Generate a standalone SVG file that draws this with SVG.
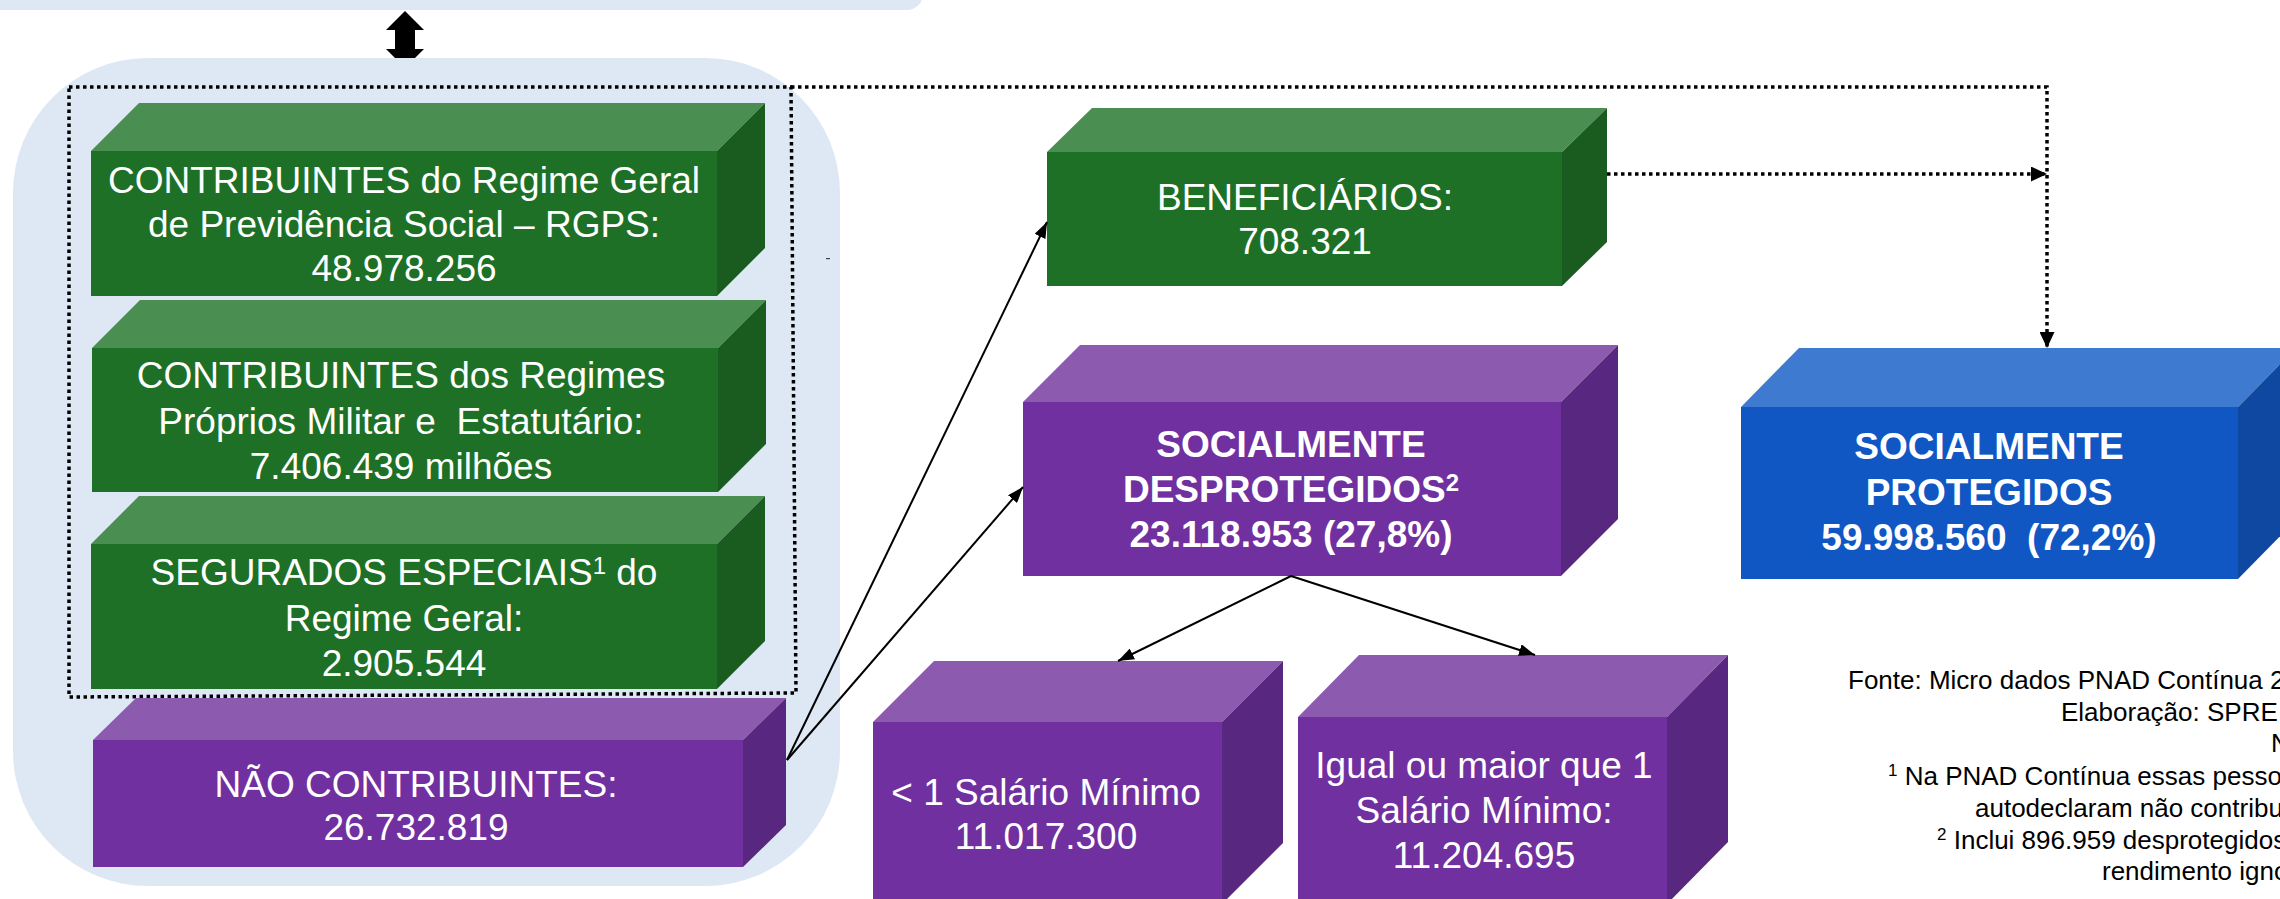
<svg xmlns="http://www.w3.org/2000/svg" width="2280" height="899" viewBox="0 0 2280 899">
<style>
  .bg { fill: #dee8f4; }
  .t { font-family: "Liberation Sans", Arial, sans-serif; font-size: 37px; fill: #ffffff; text-anchor: middle; }
  .b { font-weight: bold; }
  .sup { font-size: 24px; }
  .fsup { font-size: 17px; }
  .fn { font-family: "Liberation Sans", Arial, sans-serif; font-size: 26px; fill: #000000; }
  .gF { fill: #1e7027; } .gT { fill: #4a8e52; } .gS { fill: #1a5c20; }
  .pF { fill: #7030a0; } .pT { fill: #8c5bb0; } .pS { fill: #58277f; }
  .bF { fill: #1057c3; } .bT { fill: #3e7ad0; } .bS { fill: #0e48a0; }
  .dot { fill: none; stroke: #000000; stroke-width: 3.5; stroke-dasharray: 3.5 3.5; }
  .sol { fill: none; stroke: #000000; stroke-width: 2; }
</style>
<defs>
  <marker id="arr" markerUnits="userSpaceOnUse" markerWidth="16" markerHeight="12" refX="16" refY="6" orient="auto">
    <path d="M0,0 L16,6 L0,12 Z" style="fill:#000;stroke:none"/>
  </marker>
  <marker id="darr" markerUnits="userSpaceOnUse" markerWidth="16" markerHeight="15" refX="16" refY="7.5" orient="auto">
    <path d="M0,0 L16,7.5 L0,15 Z" style="fill:#000;stroke:none"/>
  </marker>
</defs>
<rect width="2280" height="899" fill="#ffffff"/>

<g id="top-box">
  <rect class="bg" x="-30" y="-40" width="953" height="50" rx="16"/>
</g>

<g id="double-arrow">
  <polygon points="405,11 424,30 415,30 415,49 424,49 405,68 386,49 395,49 395,30 386,30" fill="#000"/>
</g>

<g id="contributors-panel">
  <rect class="bg" x="13" y="58" width="827" height="828" rx="135"/>
  <rect x="826" y="258" width="4" height="1.2" fill="#444"/>
</g>

<g id="contribuintes-rgps">
  <polygon class="gT" points="91,151 139,103 765,103 717,151"/>
  <polygon class="gS" points="717,151 765,103 765,248 717,296"/>
  <rect class="gF" x="91" y="151" width="626" height="145"/>
  <text class="t" x="404" y="193">CONTRIBUINTES do Regime Geral</text>
  <text class="t" x="404" y="237">de Previdência Social – RGPS:</text>
  <text class="t" x="404" y="281">48.978.256</text>
</g>

<g id="contribuintes-rpps">
  <polygon class="gT" points="92,348 140,300 766,300 718,348"/>
  <polygon class="gS" points="718,348 766,300 766,444 718,492"/>
  <rect class="gF" x="92" y="348" width="626" height="144"/>
  <text class="t" x="401" y="388" xml:space="preserve">CONTRIBUINTES dos Regimes</text>
  <text class="t" x="401" y="434" xml:space="preserve">Próprios Militar e  Estatutário:</text>
  <text class="t" x="401" y="479">7.406.439 milhões</text>
</g>

<g id="segurados-especiais">
  <polygon class="gT" points="91,544 139,496 765,496 717,544"/>
  <polygon class="gS" points="717,544 765,496 765,641 717,689"/>
  <rect class="gF" x="91" y="544" width="626" height="145"/>
  <text class="t" x="404" y="585">SEGURADOS ESPECIAIS<tspan class="sup" dy="-11">1</tspan><tspan dy="11"> do</tspan></text>
  <text class="t" x="404" y="631">Regime Geral:</text>
  <text class="t" x="404" y="676">2.905.544</text>
</g>

<g id="contributors-group-border">
  <polygon class="dot" points="69,87 791,87 796,693 69,697"/>
</g>

<g id="nao-contribuintes">
  <polygon class="pT" points="93,740 136,698 786,698 743,740"/>
  <polygon class="pS" points="743,740 786,698 786,825 743,867"/>
  <rect class="pF" x="93" y="740" width="650" height="127"/>
  <text class="t" x="416" y="797">NÃO CONTRIBUINTES:</text>
  <text class="t" x="416" y="840">26.732.819</text>
</g>

<g id="beneficiarios">
  <polygon class="gT" points="1047,152 1092,108 1607,108 1562,152"/>
  <polygon class="gS" points="1562,152 1607,108 1607,242 1562,286"/>
  <rect class="gF" x="1047" y="152" width="515" height="134"/>
  <text class="t" x="1305" y="210">BENEFICIÁRIOS:</text>
  <text class="t" x="1305" y="254">708.321</text>
</g>

<g id="socialmente-desprotegidos">
  <polygon class="pT" points="1023,402 1080,345 1618,345 1561,402"/>
  <polygon class="pS" points="1561,402 1618,345 1618,519 1561,576"/>
  <rect class="pF" x="1023" y="402" width="538" height="174"/>
  <text class="t b" x="1291" y="457">SOCIALMENTE</text>
  <text class="t b" x="1291" y="502">DESPROTEGIDOS<tspan class="sup" dy="-11">2</tspan></text>
  <text class="t b" x="1291" y="547">23.118.953 (27,8%)</text>
</g>

<g id="socialmente-protegidos">
  <polygon class="bT" points="1741,407 1799,348 2296,348 2238,407"/>
  <polygon class="bS" points="2238,407 2296,348 2296,520 2238,579"/>
  <rect class="bF" x="1741" y="407" width="497" height="172"/>
  <text class="t b" x="1989" y="459">SOCIALMENTE</text>
  <text class="t b" x="1989" y="505">PROTEGIDOS</text>
  <text class="t b" x="1989" y="550" xml:space="preserve">59.998.560  (72,2%)</text>
</g>

<g id="menor-1-salario">
  <polygon class="pT" points="873,722 934,661 1283,661 1222,722"/>
  <polygon class="pS" points="1222,722 1283,661 1283,843 1222,904"/>
  <rect class="pF" x="873" y="722" width="349" height="182"/>
  <text class="t" x="1046" y="805">&lt; 1 Salário Mínimo</text>
  <text class="t" x="1046" y="849">11.017.300</text>
</g>

<g id="maior-igual-1-salario">
  <polygon class="pT" points="1298,717 1359,655 1728,655 1667,717"/>
  <polygon class="pS" points="1667,717 1728,655 1728,842 1667,904"/>
  <rect class="pF" x="1298" y="717" width="369" height="187"/>
  <text class="t" x="1484" y="778">Igual ou maior que 1</text>
  <text class="t" x="1484" y="823">Salário Mínimo:</text>
  <text class="t" x="1484" y="868">11.204.695</text>
</g>

<g id="connectors">
  <path class="dot" d="M791,87 L2047,87 L2047,348" marker-end="url(#darr)"/>
  <path class="dot" d="M1607,174 L2047,174" marker-end="url(#darr)"/>
  <path class="sol" d="M787,760 L1047,222" marker-end="url(#arr)"/>
  <path class="sol" d="M787,760 L1023,487" marker-end="url(#arr)"/>
  <path class="sol" d="M1291,576 L1118,661" marker-end="url(#arr)"/>
  <path class="sol" d="M1291,576 L1535,655" marker-end="url(#arr)"/>
</g>

<g id="notes">
  <text class="fn" x="1848" y="689">Fonte: Micro dados PNAD Contínua 2</text>
  <text class="fn" x="2061" y="721">Elaboração: SPRE</text>
  <text class="fn" x="2271" y="752">N</text>
  <text class="fn" x="1888" y="785"><tspan class="fsup" dy="-9">1</tspan><tspan dy="9"> Na PNAD Contínua essas pesso</tspan></text>
  <text class="fn" x="1975" y="817">autodeclaram não contribu</text>
  <text class="fn" x="1937" y="849"><tspan class="fsup" dy="-9">2</tspan><tspan dy="9"> Inclui 896.959 desprotegidos</tspan></text>
  <text class="fn" x="2102" y="880">rendimento igno</text>
</g>
</svg>
